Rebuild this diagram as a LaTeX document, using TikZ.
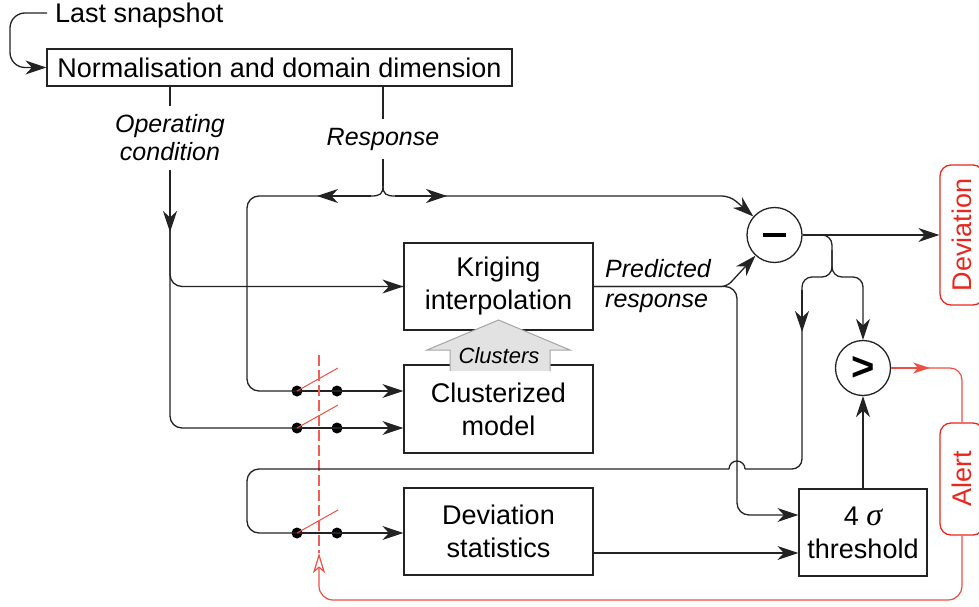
\documentclass[tikz,border=0pt]{standalone}
\usepackage{fontspec}
\setmainfont{Liberation Sans}
\newfontfamily\serifgr{Liberation Serif}
\usetikzlibrary{arrows.meta}
\definecolor{redc}{RGB}{232,40,30}
\definecolor{redl}{RGB}{236,80,68}
\definecolor{reddash}{RGB}{240,95,85}
\definecolor{linec}{RGB}{35,35,35}
\definecolor{clfill}{RGB}{226,226,226}
\definecolor{cldraw}{RGB}{165,165,165}
\begin{document}
\begin{tikzpicture}[x=1pt,y=-1pt,
  ln/.style={draw=linec, line width=1.3pt},
  arr/.style={ln, -{Stealth[length=21pt,width=14pt,inset=6.5pt]}},
  box/.style={draw=linec, line width=1.2pt, inner sep=0pt, align=center,
    font=\fontsize{27}{33}\selectfont, minimum height=87pt, minimum width=189pt},
  lbl/.style={inner xsep=2pt, inner ysep=9pt, align=center,
    font=\fontsize{25}{28}\selectfont\itshape},
  redbox/.style={draw=redc, line width=1.3pt, rounded corners=11pt, text=redc,
    font=\fontsize{27}{31}\selectfont, inner sep=0pt, rotate=90, minimum height=44pt},
  redline/.style={draw=redl, line width=1.2pt},
  opcirc/.style={circle, draw=linec, line width=1.3pt, minimum size=55pt, inner sep=0pt},
  dotnode/.style={circle, fill=black, minimum size=11pt, inner sep=0pt},
  swline/.style={draw=redl, line width=1pt},
]
\useasboundingbox (0,0) rectangle (979,607);
\clip (0,0) rectangle (979,607);

% ---------- nodes ----------
\node[anchor=west, inner ysep=0pt, inner xsep=8pt, font=\fontsize{27}{31}\selectfont] (last) at (47,16) {Last snapshot};
\node[box, minimum width=465pt, minimum height=37pt] (norm) at (279.5,67.5) {Normalisation and domain dimension};
\node[lbl] (oclbl) at (170,138) {Operating\\condition};
\node[lbl] (resp) at (383,139) {Response};
\node[box] (krig) at (498.5,286.5) {Kriging\\interpolation};
\node[box, minimum height=88pt] (clu) at (498.5,409) {Clusterized\\model};
\node[box] (dst) at (498.5,531.5) {Deviation\\statistics};
\node[box, minimum width=128pt] (thr) at (863,532.5) {4 {\serifgr\itshape\fontsize{32}{33}\selectfont σ}\\threshold};
\node[lbl, anchor=west, align=left, inner ysep=0pt, font=\fontsize{25}{30}\selectfont\itshape] (pred) at (603,286) {Predicted\\response};
\node[opcirc] (minus) at (774.5,235) {};
\draw[draw=black, line width=3.2pt] ([xshift=-11.5pt]minus.center) -- ([xshift=11.5pt]minus.center);
\node[opcirc] (gt) at (863,368) {\fontsize{40}{40}\selectfont\bfseries >};
\node[redbox, minimum width=140pt] (devbox) at (962,235) {Deviation};
\node[redbox, minimum width=112pt] (alert) at (962,479) {Alert};

% switch contacts
\node[dotnode] (d1a) at (297,391) {};
\node[dotnode] (d1b) at (337,391) {};
\node[dotnode] (d2a) at (297,428) {};
\node[dotnode] (d2b) at (337,428) {};
\node[dotnode] (d3a) at (297,533) {};
\node[dotnode] (d3b) at (337,533) {};

% ---------- clusters arrow ----------
\fill[clfill] (450,371) -- (450,350) -- (427,350) -- (498.5,320) -- (570,350) -- (550,350) -- (550,371) -- cycle;
\draw[cldraw, line width=1pt] (450,371) -- (450,350) -- (427,350) -- (498.5,320) -- (570,350) -- (550,350) -- (550,371);
\node[inner sep=0pt, font=\fontsize{22}{24}\selectfont\itshape] (clus) at (499,356) {Clusters};

% ---------- last snapshot loop ----------
\draw[arr, rounded corners=15pt] ([yshift=3pt]last.west) -- (10,13) -- (10,67.5) -- (norm.west);

% ---------- operating condition ----------
\draw[ln] (norm.south -| oclbl) -- (oclbl.north);
\draw[ln, rounded corners=12pt] (oclbl.south) -- (oclbl.south |- krig.west) -- (krig.west);
\draw[arr] (krig.west -| 360,0) -- (krig.west);
\draw[ln, rounded corners=12pt] (oclbl.south) -- (oclbl.south |- d2a) -- (d2a.center);
\draw[arr] (oclbl.south) -- (oclbl.south |- 0,232);

% ---------- response ----------
\draw[ln] (norm.south -| resp) -- (resp.north);
\coordinate (br) at (383,186);
\draw[ln] (resp.south) -- (br);
\draw[ln] (br) .. controls (383,194) and (380,196) .. (371,196);
\draw[ln] (br) .. controls (383,194) and (386,196) .. (395,196);
\draw[ln, rounded corners=12pt] (371,196) -- (247,196) -- (247,391) -- (d1a.center);
\draw[arr] (371,196) -- (317,196);
\draw[arr, rounded corners=8pt] (395,196) -- (730,196) -- (minus);
\draw[arr] (395,196) -- (447,196);

% ---------- switches ----------
\draw[ln] (d1a.center) -- (d1b.center);
\draw[ln] (d2a.center) -- (d2b.center);
\draw[ln] (d3a.center) -- (d3b.center);
\draw[arr] (d1b.center) -- (d1b.center -| clu.west);
\draw[arr] (d2b.center) -- (d2b.center -| clu.west);
\draw[arr] (d3b.center) -- (d3b.center -| dst.west);
\draw[swline] (d1a.center) -- ++(41,-23);
\draw[swline] (d2a.center) -- ++(41,-23);
\draw[swline] (d3a.center) -- ++(41,-23);
\coordinate (dtop) at (319,355);
\coordinate (dbot) at (319,553);
\draw[draw=reddash, line width=1.3pt, dash pattern=on 11pt off 4pt] (dtop) -- (dbot);

% ---------- predicted response ----------
\draw[arr, rounded corners=6pt] (krig.east) -- (727,286.5) -- (minus);
\draw[arr, rounded corners=12pt] (krig.east) -- (737,286.5) -- (737,515) -- (thr.west |- 0,515);

% ---------- deviation statistics to threshold ----------
\draw[arr] ([yshift=-21.5pt]dst.east) -- ([yshift=-21.5pt]dst.east -| thr.west);

% ---------- minus output ----------
\draw[arr] (minus.east) -- (devbox.north);
\draw[ln, rounded corners=10pt] (minus.east) -- (832,235) -- (832,277) -- (802,277) -- (802,469) -- (745,469);
\draw[ln] (745,469) arc[start angle=0, end angle=180, radius=8pt];
\draw[ln, rounded corners=12pt] (729,469) -- (247,469) -- (247,533) -- (d3a.center);
\draw[arr] (802,290) -- (802,332);
\draw[arr, rounded corners=10pt] (832,250) -- (832,277) -- (863,277) -- (gt.north);
\draw[arr] (thr.north) -- (gt.south);

% ---------- alert ----------
\draw[redline, rounded corners=12pt] (gt.east) -- (962,368) -- (alert.east);
\draw[redline, -{Stealth[length=17pt,width=11pt,inset=5pt]}] (gt.east) -- (930,368);
\draw[redline, rounded corners=14pt, -{Stealth[open,length=20pt,width=12pt,inset=5pt]}] (alert.west) -- (962,600) -- (319,600) -- (dbot);
\end{tikzpicture}
\end{document}
